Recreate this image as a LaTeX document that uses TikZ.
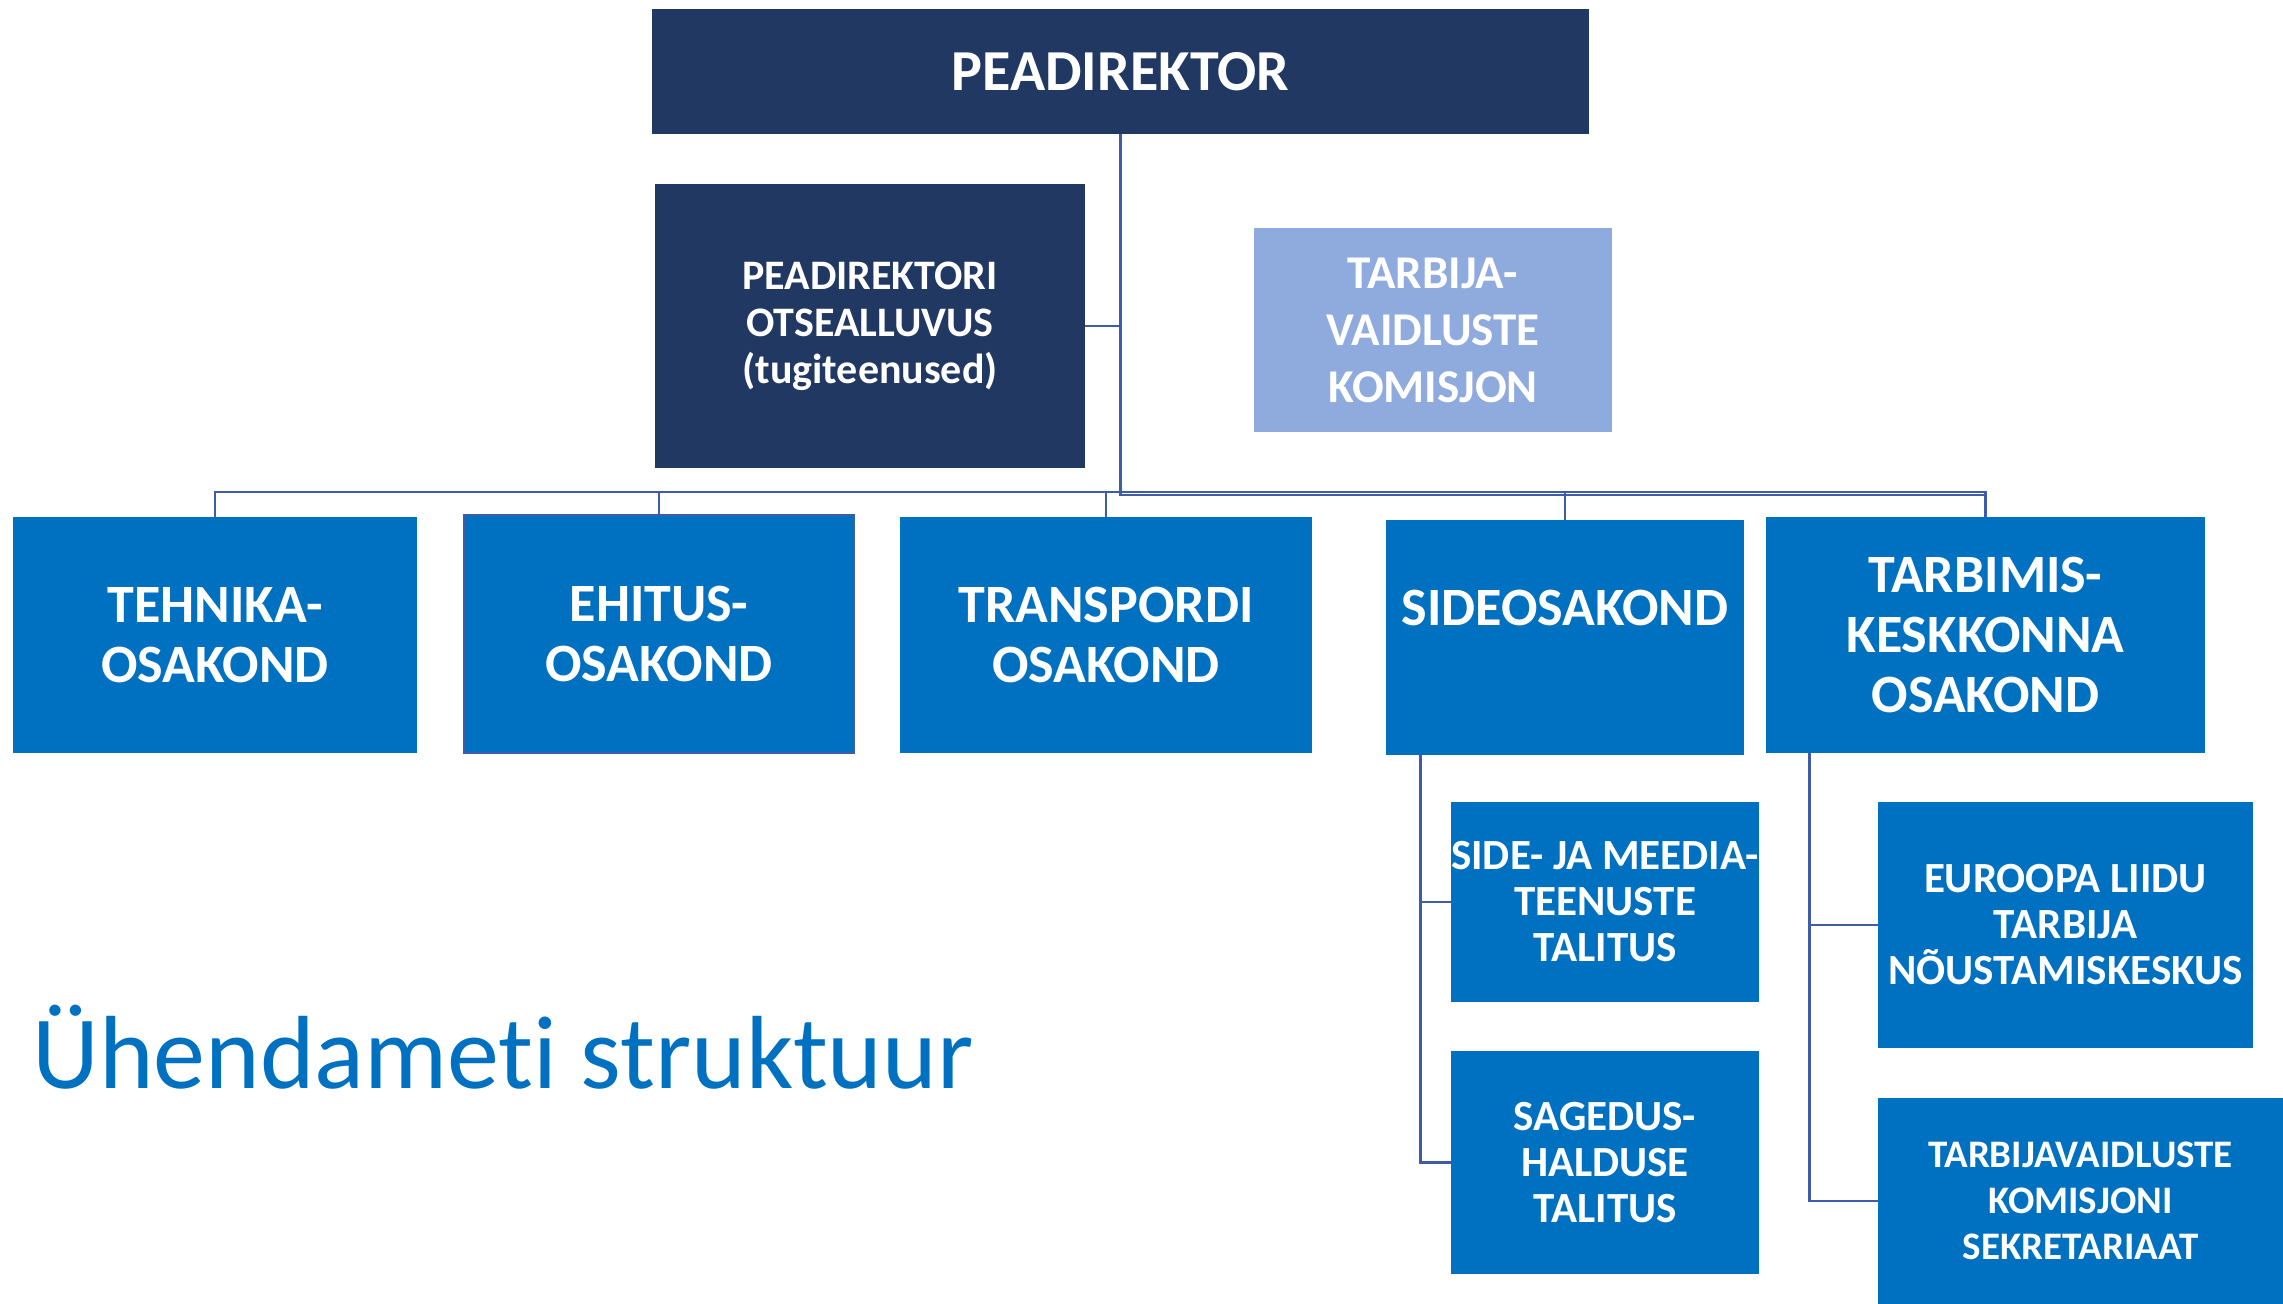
\documentclass[tikz,border=0pt]{standalone}
\usepackage{fontspec}
\setmainfont{Carlito}[Ligatures={NoCommon}]
\usepackage{tikz}
\usetikzlibrary{calc, positioning}
\definecolor{navy}{RGB}{33,56,99}
\definecolor{midblue}{RGB}{0,112,192}
\definecolor{paleblue}{RGB}{143,170,220}
\definecolor{linkblue}{RGB}{63,92,168}

\begin{document}
\begin{tikzpicture}[x=0.5pt, y=-0.5pt,
	box/.style={inner sep=0pt, align=center, text=white},
	topbox/.style={box, fill=navy},
	dept/.style={box, fill=midblue, minimum height=118pt, font=\fontsize{27}{30}\selectfont\bfseries},
	unit/.style={box, fill=midblue, font=\fontsize{21.5}{23}\selectfont\bfseries},
	link/.style={draw=linkblue, line width=1.4pt}]
	\useasboundingbox (0,0) rectangle (2283,1303);

	% juhtkond
	\node [topbox, minimum width=468.5pt, minimum height=62.5pt, font=\fontsize{29}{32}\selectfont\bfseries] (pd) at (1120.5,71.5) {PEADIREKTOR};
	\node [topbox, minimum width=215pt, minimum height=142pt, font=\fontsize{21}{23.5}\selectfont\bfseries] (ots) at (870,326) {PEADIREKTORI\\OTSEALLUVUS\\(tugiteenused)};
	\node [box, fill=paleblue, minimum width=179pt, minimum height=102pt, font=\fontsize{23.5}{28.5}\selectfont\bfseries] (tvk) at (1433,330) {TARBIJA-\\VAIDLUSTE\\KOMISJON};

	% osakonnad
	\node [dept, minimum width=202pt] (teh) at (215,635) {TEHNIKA-\\OSAKOND};
	\node [dept, minimum width=195pt, minimum height=119pt, draw=linkblue, line width=0.6pt] (ehi) at (659,634) {EHITUS-\\OSAKOND};
	\node [dept, minimum width=206pt] (tra) at (1106,635) {TRANSPORDI\\OSAKOND};
	\node [dept, minimum width=179pt, minimum height=117.5pt] (sid) at (1565,637.5) {SIDEOSAKOND\\\mbox{}};
	\node [dept, minimum width=219.5pt] (tkk) at (1985.5,635) {TARBIMIS-\\KESKKONNA\\OSAKOND};

	% talitused
	\node [unit, minimum width=154pt, minimum height=100pt] (sjm) at (1605,902) {SIDE- JA MEEDIA-\\TEENUSTE\\TALITUS};
	\node [unit, minimum width=154pt, minimum height=111.5pt] (sag) at (1605,1162.5) {SAGEDUS-\\HALDUSE\\TALITUS};
	\node [unit, minimum width=187.5pt, minimum height=123pt] (eur) at (2065.5,925) {EUROOPA LIIDU\\TARBIJA\\NÕUSTAMISKESKUS};
	\node [unit, minimum width=202.5pt, minimum height=103pt, font=\fontsize{19.5}{23}\selectfont\bfseries] (tks) at (2080.5,1201) {TARBIJAVAIDLUSTE\\KOMISJONI\\SEKRETARIAAT};

	\node [anchor=base west, inner sep=0pt, text=midblue, font=\fontsize{52}{60}\selectfont] (title) at (32,1088) {Ühendameti struktuur};

	% ühendused
	\coordinate (bus) at (1121,492);
	\draw [link] (teh.north) -- (teh.north |- bus) -- (tkk.north |- bus) -- (tkk.north);
	\foreach \d in {ehi,tra,sid}
		\draw [link] (\d.north) -- (\d.north |- bus);
	\draw [link] (pd.south) |- ($(tkk.north |- bus)+(0,3)$);
	\draw [link] (ots.east) -- (ots.east -| bus);

	\coordinate (sidtrunk) at ($(sid.south west)+(35,0)$);
	\draw [link] (sidtrunk) |- (sag.west);
	\draw [link] (sjm.west) -- (sjm.west -| sidtrunk);
	\coordinate (tkktrunk) at ($(tkk.south west)+(44,0)$);
	\draw [link] (tkktrunk) |- (tks.west);
	\draw [link] (eur.west) -- (eur.west -| tkktrunk);
\end{tikzpicture}
\end{document}
